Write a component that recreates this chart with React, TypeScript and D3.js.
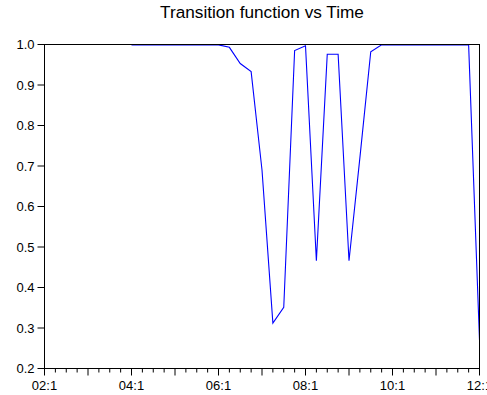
import React from 'react'
import * as d3 from 'd3'

// quarterly series, 2004Q1 .. 2012Q1
const periods = [
  '2004Q1', '2004Q2', '2004Q3', '2004Q4', '2005Q1', '2005Q2', '2005Q3', '2005Q4',
  '2006Q1', '2006Q2', '2006Q3', '2006Q4', '2007Q1', '2007Q2', '2007Q3', '2007Q4',
  '2008Q1', '2008Q2', '2008Q3', '2008Q4', '2009Q1', '2009Q2', '2009Q3', '2009Q4',
  '2010Q1', '2010Q2', '2010Q3', '2010Q4', '2011Q1', '2011Q2', '2011Q3', '2011Q4',
  '2012Q1'
]
const transition = [
  0.999, 0.999, 0.999, 0.999, 0.999, 0.999, 0.999, 0.999,
  0.999, 0.993, 0.953, 0.933, 0.69, 0.312, 0.351, 0.985,
  0.997, 0.466, 0.976, 0.976, 0.466, 0.72, 0.982, 0.999,
  0.999, 0.999, 0.999, 0.999, 0.999, 0.999, 0.999, 0.999,
  0.27
]
const xTickLabels = ['02:1', '04:1', '06:1', '08:1', '10:1', '12:1']
const yTicks = [0.2, 0.3, 0.4, 0.5, 0.6, 0.7, 0.8, 0.9, 1.0]

const WIDTH = 487
const HEIGHT = 395
const margin = { top: 44.5, right: 7.5, bottom: 26.5, left: 44.5 }
const FONT = "'Liberation Sans', Arial, sans-serif"

// quarter index counted from 2002Q1
const qIndex = (p: string) => (+p.slice(0, 4) - 2002) * 4 + (+p.slice(5) - 1)

const App = () => {
  const x0 = margin.left
  const x1 = WIDTH - margin.right
  const y0 = HEIGHT - margin.bottom
  const y1 = margin.top

  const xScale = d3.scaleLinear().domain([0, 40]).range([x0, x1])
  const yScale = d3.scaleLinear().domain([0.2, 1.0]).range([y0, y1])

  const line = d3.line<number>()
    .x((d, i) => xScale(qIndex(periods[i])))
    .y(d => yScale(d))

  const quarterTicks = d3.range(0, 41)

  return (
    <svg width={WIDTH} height={HEIGHT} style={{ position: 'absolute', left: 0, top: 0, background: '#fff' }}>
      <text x={(x0 + x1) / 2} y={18} textAnchor="middle" fontFamily={FONT} fontSize={17.2} fill="#000">
        Transition function vs Time
      </text>

      <defs>
        <clipPath id="plot-clip">
          <rect x={x0} y={y1 - 1} width={x1 - x0} height={y0 - y1 + 2} />
        </clipPath>
      </defs>

      {/* 数据 */}
      <path d={line(transition) || ''} fill="none" stroke="#0000ff" strokeWidth={1.1} clipPath="url(#plot-clip)" />

      {/* frame */}
      <rect x={x0} y={y1} width={x1 - x0} height={y0 - y1} fill="none" stroke="#000" strokeWidth={1} />

      {/* y axis */}
      <g>
        {yTicks.map(t => {
          const y = yScale(t)
          return (
            <g key={t}>
              <line x1={x0 - 7} x2={x0} y1={y} y2={y} stroke="#000" />
              <text x={x0 - 10} y={y + 4.5} textAnchor="end" fontFamily={FONT} fontSize={13} fill="#000">
                {t.toFixed(1)}
              </text>
            </g>
          )
        })}
      </g>

      {/* x axis */}
      <g>
        {quarterTicks.map(k => {
          const x = xScale(k)
          const len = k % 4 === 0 ? 7 : 4
          return <line key={k} x1={x} x2={x} y1={y0} y2={y0 + len} stroke="#000" />
        })}
        {xTickLabels.map((lab, i) => (
          <text key={lab} x={xScale(i * 8)} y={390} textAnchor="middle" fontFamily={FONT} fontSize={13} fill="#000">
            {lab}
          </text>
        ))}
      </g>
    </svg>
  )
}

export default App
